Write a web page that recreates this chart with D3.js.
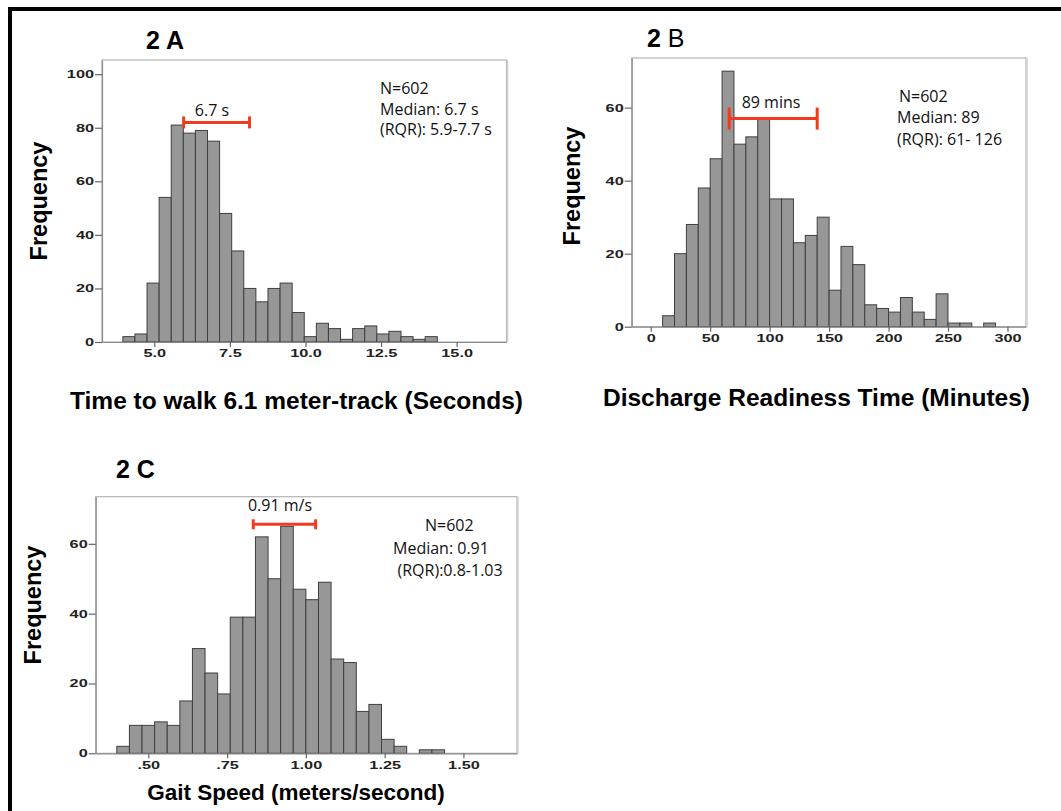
<!DOCTYPE html>
<html>
<head>
<meta charset="utf-8">
<script src="https://cdn.jsdelivr.net/npm/d3@7/dist/d3.min.js"></script>
<style>
  html, body { margin: 0; padding: 0; background: #fff; }
  svg { display: block; }
</style>
</head>
<body>
<svg id="fig" width="1061" height="811"></svg>
<script>
// ---- Panel 2A: time to walk the 6.1 m track (seconds) ----
const walkBinStart = 3.96;
const walkBinWidth = 0.4;
const walkCounts = [2, 3, 22, 54, 81, 78, 79, 75, 48, 34, 20, 15, 20, 22, 11, 2, 7, 5, 1, 5, 6, 3, 4, 2, 1, 2];
const walkTicks = [5, 7.5, 10, 12.5, 15];
const walkTickLabels = ["5.0", "7.5", "10.0", "12.5", "15.0"];
const walkFreqTicks = [0, 20, 40, 60, 80, 100];
const walkRange = [5.97, 8.15];
const walkRangeLevel = 82;

// ---- Panel 2B: discharge readiness time (minutes) ----
const dischargeBinStart = 10;
const dischargeBinWidth = 10;
const dischargeCounts = [3, 20, 28, 38, 46, 70, 50, 52, 57, 35, 35, 23, 25, 30, 10, 22, 17, 6, 5, 4, 8, 4, 2, 9, 1, 1, 0, 1];
const dischargeTicks = [0, 50, 100, 150, 200, 250, 300];
const dischargeTickLabels = ["0", "50", "100", "150", "200", "250", "300"];
const dischargeFreqTicks = [0, 20, 40, 60];
const dischargeRange = [66, 140];
const dischargeRangeLevel = 57;

// ---- Panel 2C: gait speed (meters/second) ----
const gaitBinStart = 0.40;
const gaitBinWidth = 0.04;
const gaitCounts = [2, 8, 8, 9, 8, 15, 30, 23, 17, 39, 39, 62, 50, 65, 47, 44, 49, 27, 26, 12, 14, 4, 2, 0, 1, 1];
const gaitTicks = [0.5, 0.75, 1.0, 1.25, 1.5];
const gaitTickLabels = [".50", ".75", "1.00", "1.25", "1.50"];
const gaitFreqTicks = [0, 20, 40, 60];
const gaitRange = [0.833, 1.031];
const gaitRangeLevel = 65.6;

const svg = d3.select("#fig");
const TICK_FONT = "'Liberation Sans', Arial, sans-serif";
const TITLE_FONT = "'Liberation Sans', Arial, Helvetica, sans-serif";
const NOTE_FONT = "'Open Sans', 'Noto Sans', sans-serif";
const RED = "#f23a1e";
const SX = 1.55; // tick labels are drawn wide

// figure border (top and left rules)
svg.append("rect").attr("x", 8).attr("y", 7).attr("width", 1053).attr("height", 4).attr("fill", "#000");
svg.append("rect").attr("x", 8).attr("y", 7).attr("width", 4).attr("height", 804).attr("fill", "#000");

function drawPanel(p) {
  const g = svg.append("g");
  const x = d3.scaleLinear().domain(p.xDomain).range([p.left, p.right]);
  const y = d3.scaleLinear().domain([0, p.yMax]).range([p.bottom, p.top]);

  // plot frame
  g.append("rect")
    .attr("x", p.left).attr("y", p.top)
    .attr("width", p.right - p.left).attr("height", p.bottom - p.top)
    .attr("fill", "none").attr("stroke", "#b4b4b4").attr("stroke-width", 1.2);
  g.append("line")
    .attr("x1", p.right + 1).attr("x2", p.right + 1)
    .attr("y1", p.top).attr("y2", p.bottom)
    .attr("stroke", "#d0d0d0").attr("stroke-width", 1.5);

  // histogram bars
  const bins = p.counts.map((c, i) => ({
    x0: p.binStart + i * p.binWidth,
    x1: p.binStart + (i + 1) * p.binWidth,
    count: c
  })).filter(d => d.count > 0);

  g.append("g").selectAll("rect").data(bins).join("rect")
    .attr("x", d => x(d.x0))
    .attr("width", d => x(d.x1) - x(d.x0))
    .attr("y", d => y(d.count))
    .attr("height", d => y(0) - y(d.count))
    .attr("fill", "#979797")
    .attr("stroke", "#3f3f3f")
    .attr("stroke-width", 1);

  // axes
  const xAxis = d3.axisBottom(x)
    .tickValues(p.xTicks)
    .tickFormat((d, i) => p.xTickLabels[i])
    .tickSize(5).tickSizeOuter(0).tickPadding(3);
  const gx = g.append("g").attr("transform", `translate(0,${p.bottom})`).call(xAxis);

  const yAxis = d3.axisLeft(y)
    .tickValues(p.yTicks)
    .tickFormat(d3.format("d"))
    .tickSize(7).tickSizeOuter(0).tickPadding(1);
  const gy = g.append("g").attr("transform", `translate(${p.left},0)`).call(yAxis);

  [gx, gy].forEach(ax => {
    ax.select(".domain").attr("stroke", "#8a8a8a").attr("stroke-width", 1.2);
    ax.selectAll(".tick line").attr("stroke", "#666").attr("stroke-width", 1.2);
    ax.selectAll(".tick text")
      .attr("font-family", TICK_FONT)
      .attr("font-weight", "bold")
      .attr("font-size", 10.5)
      .attr("fill", "#222");
  });
  gx.selectAll(".tick text").attr("transform", `scale(${SX},1)`);
  gy.selectAll(".tick text").attr("x", -8 / SX).attr("transform", `scale(${SX},1)`);

  // interquartile bar with end caps
  const rg = g.append("g").attr("stroke", RED).attr("stroke-width", 3);
  const ry = y(p.rangeLevel);
  rg.append("line").attr("x1", x(p.range[0])).attr("x2", x(p.range[1])).attr("y1", ry).attr("y2", ry);
  p.range.forEach(v => {
    rg.append("line").attr("x1", x(v)).attr("x2", x(v))
      .attr("y1", ry - p.capHalf).attr("y2", ry + p.capHalf);
  });

  // median label above the bar
  g.append("text")
    .attr("x", p.medianLabel.x).attr("y", p.medianLabel.y)
    .attr("text-anchor", "middle")
    .attr("font-family", NOTE_FONT).attr("font-size", 16).attr("fill", "#111")
    .text(p.medianLabel.text);

  // summary statistics
  p.notes.forEach(n => {
    g.append("text")
      .attr("x", n.x).attr("y", n.y)
      .attr("font-family", NOTE_FONT).attr("font-size", 16).attr("fill", "#111")
      .text(n.text);
  });

  // axis titles
  g.append("text")
    .attr("transform", `translate(${p.yTitle.x},${p.yTitle.y}) rotate(-90)`)
    .attr("text-anchor", "middle")
    .attr("font-family", TITLE_FONT).attr("font-weight", "bold").attr("font-size", 23.5)
    .attr("fill", "#000")
    .text("Frequency");
  g.append("text")
    .attr("x", p.xTitle.x).attr("y", p.xTitle.y)
    .attr("text-anchor", "middle")
    .attr("font-family", TITLE_FONT).attr("font-weight", "bold").attr("font-size", p.xTitle.size)
    .attr("fill", "#000")
    .text(p.xTitle.text);

  // panel label
  const lab = g.append("text")
    .attr("x", p.panelLabel.x).attr("y", p.panelLabel.y)
    .attr("font-family", TITLE_FONT).attr("font-size", 25).attr("fill", "#000");
  lab.append("tspan").attr("font-weight", "bold").text("2 ");
  lab.append("tspan").attr("font-weight", p.panelLabel.boldLetter ? "bold" : "normal").text(p.panelLabel.letter);
}

drawPanel({
  left: 102, right: 506.5, top: 60, bottom: 342,
  xDomain: [3.27, 16.65], yMax: 105.3,
  binStart: walkBinStart, binWidth: walkBinWidth, counts: walkCounts,
  xTicks: walkTicks, xTickLabels: walkTickLabels, yTicks: walkFreqTicks,
  range: walkRange, rangeLevel: walkRangeLevel, capHalf: 6,
  medianLabel: { x: 212, y: 116, text: "6.7 s" },
  notes: [
    { x: 380, y: 94, text: "N=602" },
    { x: 380, y: 114.5, text: "Median: 6.7 s" },
    { x: 380, y: 135, text: "(RQR): 5.9-7.7 s" }
  ],
  yTitle: { x: 47, y: 201 },
  xTitle: { x: 296.5, y: 409, size: 24.5, text: "Time to walk 6.1 meter-track (Seconds)" },
  panelLabel: { x: 146, y: 49, letter: "A", boldLetter: true }
});

drawPanel({
  left: 631.7, right: 1026, top: 58, bottom: 326.7,
  xDomain: [-16, 315.6], yMax: 73.6,
  binStart: dischargeBinStart, binWidth: dischargeBinWidth, counts: dischargeCounts,
  xTicks: dischargeTicks, xTickLabels: dischargeTickLabels, yTicks: dischargeFreqTicks,
  range: dischargeRange, rangeLevel: dischargeRangeLevel, capHalf: 11,
  medianLabel: { x: 771, y: 107.5, text: "89 mins" },
  notes: [
    { x: 899, y: 102, text: "N=602" },
    { x: 897, y: 123, text: "Median: 89" },
    { x: 897, y: 144.5, text: "(RQR): 61- 126" }
  ],
  yTitle: { x: 580, y: 186 },
  xTitle: { x: 816.5, y: 406, size: 24.5, text: "Discharge Readiness Time (Minutes)" },
  panelLabel: { x: 647, y: 47, letter: "B", boldLetter: false }
});

drawPanel({
  left: 95.7, right: 517, top: 496.7, bottom: 753.3,
  xDomain: [0.333, 1.670], yMax: 73.5,
  binStart: gaitBinStart, binWidth: gaitBinWidth, counts: gaitCounts,
  xTicks: gaitTicks, xTickLabels: gaitTickLabels, yTicks: gaitFreqTicks,
  range: gaitRange, rangeLevel: gaitRangeLevel, capHalf: 5,
  medianLabel: { x: 280, y: 511, text: "0.91 m/s" },
  notes: [
    { x: 425, y: 531, text: "N=602" },
    { x: 393, y: 554, text: "Median: 0.91" },
    { x: 397.5, y: 575.5, text: "(RQR):0.8-1.03" }
  ],
  yTitle: { x: 41, y: 605 },
  xTitle: { x: 296, y: 800, size: 22.5, text: "Gait Speed (meters/second)" },
  panelLabel: { x: 116, y: 478, letter: "C", boldLetter: true }
});
</script>
</body>
</html>
